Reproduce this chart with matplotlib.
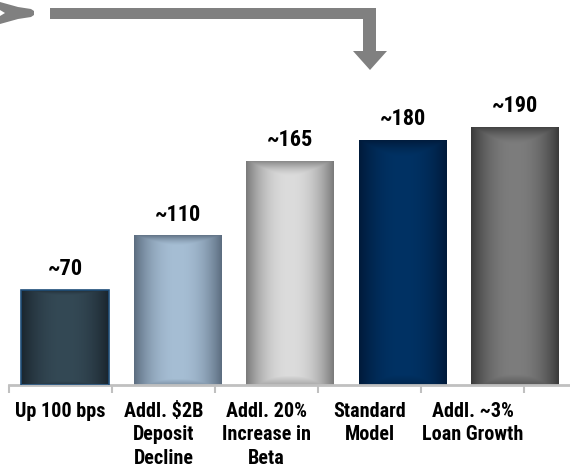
import numpy as np
import matplotlib
matplotlib.use("Agg")
import matplotlib.pyplot as plt
from matplotlib import font_manager as fm
from matplotlib.colors import to_rgb
from matplotlib.patches import Polygon, Rectangle

categories = ["Up 100 bps", "Addl. $2B\nDeposit\nDecline", "Addl. 20%\nIncrease in\nBeta",
              "Standard\nModel", "Addl. ~3%\nLoan Growth"]
values = [70, 110, 165, 180, 190]
value_labels = ["~70", "~110", "~165", "~180", "~190"]
centers = ["#344955", "#a6bed4", "#dcdcdc", "#003264", "#7d7d7d"]
edges = ["#1a252e", "#5c6d80", "#7a7a7a", "#001a3a", "#3a3a3a"]

# want something close to Arial Narrow Bold
have = {(f.name, f.weight) for f in fm.fontManager.ttflist}
bold_names = {n for n, w in have if w in (600, 700, "bold")}
pick = "Liberation Sans"
for cand in ["Liberation Sans Narrow", "Arial Narrow", "Roboto Condensed", "PT Sans Narrow",
             "Archivo Narrow", "Encode Sans Condensed", "Barlow Semi Condensed"]:
    if cand in bold_names:
        pick = cand
        break
plt.rcParams["font.family"] = [pick, "DejaVu Sans"]

W, H = 570, 467
fig = plt.figure(figsize=(W / 100, H / 100), dpi=100)

# bars are spaced 112.5 px apart, category labels 103 px apart (as in the original slide)
px_per_cat = 112.5
first_center = 65
ax_left, ax_right, base_y = 9, 570, 385
ax = fig.add_axes([ax_left / W, (H - base_y) / H, (ax_right - ax_left) / W, base_y / H])
to_data = lambda px: (px - first_center) / px_per_cat

x = np.arange(len(values))
bw = 88 / px_per_cat
bars = ax.bar(x, values, width=bw, color="none", edgecolor="none", zorder=2)

u = np.linspace(0, 1, 120)
v = np.linspace(0, 1, 200)
U, V = np.meshgrid(u, v)
hf = np.abs(2 * U - 1) ** 2.2
vt = np.clip((V - 0.93) / 0.07, 0, 1) ** 1.5
vb = np.clip((0.04 - V) / 0.04, 0, 1) * 0.5
t = np.clip(np.maximum(hf, np.maximum(vt * 0.9, vb)), 0, 1)[..., None]

for i, b in enumerate(bars):
    c = np.array(to_rgb(centers[i]))
    e = np.array(to_rgb(edges[i]))
    img = c * (1 - t) + e * t
    x0 = b.get_x()
    im = ax.imshow(img, extent=(x0, x0 + bw, 0, values[i]), origin="lower",
                   aspect="auto", zorder=2, interpolation="bilinear")
    im.set_clip_path(b)
    ax.annotate(value_labels[i], (x[i], values[i]), xytext=(0, 7), textcoords="offset points",
                ha="center", va="bottom", fontsize=16, fontweight="bold", color="black")

ax.add_patch(Rectangle((bars[0].get_x(), 0), bw, values[0], fill=False,
                       edgecolor="#1f4e79", lw=1.2, zorder=3))

label_px = [60.5 + 103 * i for i in range(len(categories))]
bound_px = [9 + 103 * i for i in range(len(categories) + 1)]
ax.set_xticks([to_data(p) for p in label_px])
ax.set_xticklabels(categories, fontsize=14.5, fontweight="bold", linespacing=1.3)
ax.set_xticks([to_data(p) for p in bound_px], minor=True)
ax.tick_params(axis="x", which="major", length=0, pad=12)
ax.tick_params(axis="x", which="minor", length=6, width=1.5, color="#c0c0c0", direction="out")
ax.set_yticks([])
ax.set_xlim(to_data(ax_left), to_data(ax_right))
ax.set_ylim(0, base_y / 1.36)
for s in ["top", "right", "left"]:
    ax.spines[s].set_visible(False)
ax.spines["bottom"].set_color("#c0c0c0")
ax.spines["bottom"].set_linewidth(2)
ax.patch.set_alpha(0)

# connector arrow at the top, drawn in pixel space
ov = fig.add_axes([0, 0, 1, 1], zorder=5)
ov.set_xlim(0, W)
ov.set_ylim(H, 0)
ov.axis("off")
grey = "#808080"
ov.add_patch(Rectangle((50, 8), 326, 11, color=grey, lw=0))
ov.add_patch(Rectangle((363, 8), 13, 44, color=grey, lw=0))
ov.add_patch(Polygon([(353, 51), (387, 51), (370, 70)], color=grey, lw=0))
ov.add_patch(Polygon([(0, 2), (18, 7), (31, 9), (34, 11), (34, 15), (31, 17), (18, 19),
                      (0, 24), (0, 16), (5, 13), (0, 10)], color=grey, lw=0))

fig.savefig("out.png", dpi=100)
